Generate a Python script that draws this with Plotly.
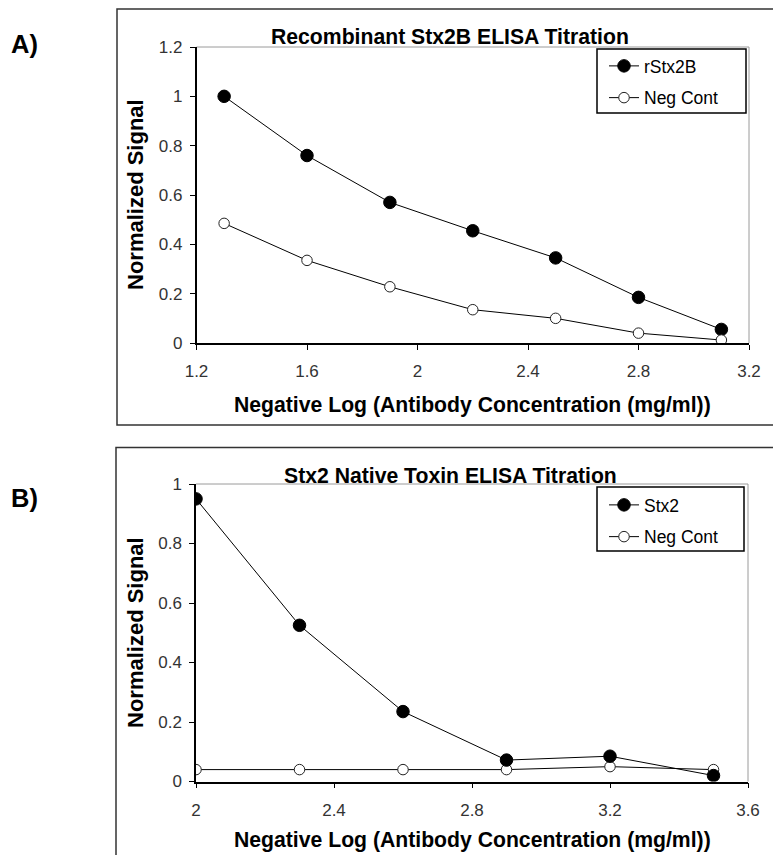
import plotly.graph_objects as go

# ---- Data ----
xA = [1.3, 1.6, 1.9, 2.2, 2.5, 2.8, 3.1]
rStx2B = [1.0, 0.76, 0.57, 0.455, 0.345, 0.185, 0.055]
negA = [0.485, 0.335, 0.228, 0.135, 0.10, 0.04, 0.012]

xB = [2.0, 2.3, 2.6, 2.9, 3.2, 3.5]
stx2 = [0.95, 0.525, 0.235, 0.072, 0.085, 0.02]
negB = [0.04, 0.04, 0.04, 0.04, 0.05, 0.04]

xticksA = [1.2, 1.6, 2.0, 2.4, 2.8, 3.2]
yticksA = [0, 0.2, 0.4, 0.6, 0.8, 1.0, 1.2]
xticksB = [2.0, 2.4, 2.8, 3.2, 3.6]
yticksB = [0, 0.2, 0.4, 0.6, 0.8, 1.0]

titleA = "Recombinant Stx2B ELISA Titration"
titleB = "Stx2 Native Toxin ELISA Titration"
xtitle = "Negative Log (Antibody Concentration (mg/ml))"
ytitle = "Normalized Signal"

W, H = 773, 855
FONT = "Liberation Sans, Arial, sans-serif"

def px(x):
    return x / W

def py(y):
    return 1 - y / H

fig = go.Figure()

filled = dict(symbol="circle", size=12.5, color="black", line=dict(color="black", width=1))
opened = dict(symbol="circle", size=10.5, color="white", line=dict(color="#222", width=1))
line = dict(color="black", width=1)

fig.add_trace(go.Scatter(x=xA, y=rStx2B, name="rStx2B", mode="lines+markers",
                         marker=filled, line=line, xaxis="x", yaxis="y", legend="legend",
                         legendgroup="a1", legendrank=1))
fig.add_trace(go.Scatter(x=xA, y=negA, name="Neg Cont", mode="lines+markers",
                         marker=opened, line=line, xaxis="x", yaxis="y", legend="legend",
                         legendgroup="a2", legendrank=2))
fig.add_trace(go.Scatter(x=xB, y=negB, name="Neg Cont", mode="lines+markers",
                         marker=opened, line=line, xaxis="x2", yaxis="y2", legend="legend2",
                         legendgroup="b2", legendrank=2))
fig.add_trace(go.Scatter(x=xB, y=stx2, name="Stx2", mode="lines+markers",
                         marker=filled, line=line, xaxis="x2", yaxis="y2", legend="legend2",
                         legendgroup="b1", legendrank=1))

axis_common = dict(showline=True, linecolor="black", linewidth=1.5, ticks="outside",
                   ticklen=5, tickcolor="black", tickwidth=1, showgrid=False, zeroline=False,
                   tickfont=dict(family=FONT, size=17, color="#333"), fixedrange=True)

legend_common = dict(xanchor="left", yanchor="top", borderwidth=0, bgcolor="rgba(0,0,0,0)",
                     font=dict(family=FONT, size=17.5, color="black"),
                     tracegroupgap=6, traceorder="grouped")

fig.update_layout(
    autosize=True,
    margin=dict(l=0, r=0, t=0, b=0, autoexpand=False),
    paper_bgcolor="white", plot_bgcolor="white",
    font=dict(family=FONT, color="black"),
    xaxis=dict(domain=[px(196.5), px(749)], range=[1.2, 3.2], tickvals=xticksA,
               anchor="y", ticklabelstandoff=7, **axis_common),
    yaxis=dict(domain=[py(343), py(47)], range=[0, 1.2], tickvals=yticksA,
               anchor="x", ticklabelstandoff=4, **axis_common),
    xaxis2=dict(domain=[px(196), px(748)], range=[2.0, 3.6], tickvals=xticksB,
                anchor="y2", ticklabelstandoff=7, **axis_common),
    yaxis2=dict(domain=[py(781.5), py(484)], range=[0, 1.0], tickvals=yticksB,
                anchor="x2", ticklabelstandoff=4, **axis_common),
    legend=dict(x=px(604), y=py(48), **legend_common),
    legend2=dict(x=px(604), y=py(487), **legend_common),
    showlegend=True,
)

shapes = []
# outer panel boxes
shapes.append(dict(type="rect", xref="paper", yref="paper", x0=px(117), x1=px(790),
                   y0=py(425), y1=py(9), line=dict(color="#333", width=1.5), layer="below"))
shapes.append(dict(type="rect", xref="paper", yref="paper", x0=px(116), x1=px(790),
                   y0=py(880), y1=py(447.5), line=dict(color="#333", width=1.5), layer="below"))
# gray plot-area borders (top and right)
for xr, yr in (("x domain", "y domain"), ("x2 domain", "y2 domain")):
    shapes.append(dict(type="path", xref=xr, yref=yr, path="M 0 1 L 1 1 L 1 0",
                       line=dict(color="#9a9a9a", width=1), layer="below"))
# legend boxes
shapes.append(dict(type="rect", xref="paper", yref="paper", x0=px(597), x1=px(746),
                   y0=py(113), y1=py(49), line=dict(color="black", width=1.5),
                   fillcolor="white", layer="below"))
shapes.append(dict(type="rect", xref="paper", yref="paper", x0=px(597), x1=px(744),
                   y0=py(551), y1=py(487), line=dict(color="black", width=1.5),
                   fillcolor="white", layer="below"))
fig.update_layout(shapes=shapes)

bold = dict(family=FONT, size=21.2, color="black")
boldy = dict(family=FONT, size=22, color="black")
ann = [
    dict(text="<b>A)</b>", x=px(9), y=py(44), xanchor="left", yanchor="middle",
         font=dict(family=FONT, size=25.5, color="black")),
    dict(text="<b>B)</b>", x=px(9), y=py(498), xanchor="left", yanchor="middle",
         font=dict(family=FONT, size=25.5, color="black")),
    dict(text="<b>" + titleA + "</b>", x=px(450), y=py(37), xanchor="center", yanchor="middle", font=bold),
    dict(text="<b>" + titleB + "</b>", x=px(450), y=py(475), xanchor="center", yanchor="middle", font=bold),
    dict(text="<b>" + xtitle + "</b>", x=px(472), y=py(405), xanchor="center", yanchor="middle", font=bold),
    dict(text="<b>" + xtitle + "</b>", x=px(472), y=py(840), xanchor="center", yanchor="middle", font=bold),
    dict(text="<b>" + ytitle + "</b>", x=px(135), y=py(195), xanchor="center", yanchor="middle",
         textangle=-90, font=boldy),
    dict(text="<b>" + ytitle + "</b>", x=px(135), y=py(633), xanchor="center", yanchor="middle",
         textangle=-90, font=boldy),
]
for a in ann:
    a.update(xref="paper", yref="paper", showarrow=False)
fig.update_layout(annotations=ann)

fig.write_html("out.html",
               config={"displayModeBar": False, "responsive": True},
               default_width="100vw", default_height="100vh",
               post_script="document.body.style.margin='0';document.body.style.overflow='hidden';")
